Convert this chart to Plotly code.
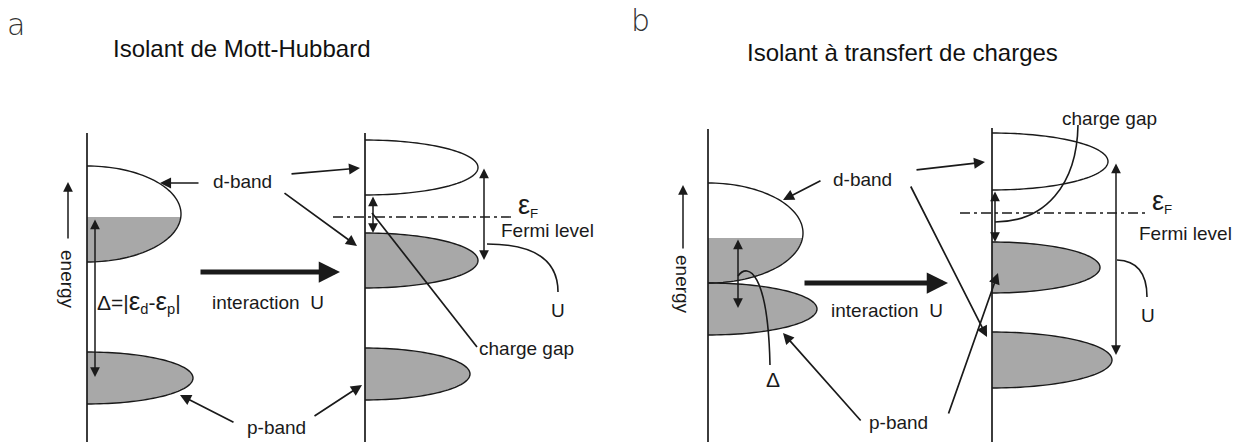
import numpy as np
import plotly.graph_objects as go

W, H = 1237, 442
FONT = "Liberation Sans, Arial, sans-serif"
INK = "#1a1a1a"
GRAY = "#a8a8a8"

# ---- schematic geometry (pixel-space coordinates of the drawing) ----
# vertical energy axes: x, y_top
AXES_X = [87, 365, 708, 992]
AXES_TOP = [133, 133, 129, 128]

# bands: axis x, top, bottom, half-width, gray-fill start (None = white)
BAND_X0 = [87, 87, 365, 365, 365, 708, 708, 992, 992, 992]
BAND_TOP = [166, 352, 140, 233, 348, 183, 283, 133, 242, 332]
BAND_BOT = [262, 404, 195, 288, 400, 283, 335, 190, 293, 388]
BAND_W = [94, 106, 113, 113, 105, 95, 109, 116, 108, 120]
BAND_FILL = [217, 352, None, 233, 348, 238, 283, None, 242, 332]

# energy arrows (x, tail y, tip y) and "energy" label y
ENERGY_X = [68, 683]
ENERGY_TAIL = [240, 250]
ENERGY_TIP = [182, 185]
ENERGY_LABEL_Y = [279, 284]

# double arrows: x, y1, y2
DBL_X = [95, 373, 484, 738, 995, 1116]
DBL_Y1 = [218, 195, 167, 238, 190, 162]
DBL_Y2 = [377, 233, 260, 308, 242, 355]

# Fermi levels: y, x1, x2
FERMI_Y = [217, 213]
FERMI_X1 = [333, 960]
FERMI_X2 = [513, 1147]

# pointer arrows: tail (x,y) -> tip (x,y)
PTR_TAIL_X = [200, 290, 283, 235, 313, 822, 915, 910, 862, 948]
PTR_TAIL_Y = [183, 174, 192, 423, 417, 180, 170, 185, 422, 415]
PTR_TIP_X = [160, 360, 357, 180, 362, 783, 985, 987, 783, 998]
PTR_TIP_Y = [183, 168, 246, 395, 385, 200, 162, 337, 333, 273]

# thick "interaction U" arrows
INT_TAIL_X = [199, 803]
INT_TIP_X = [340, 948]
INT_Y = [272, 283]

# text labels
LABELS = [
    ("d-band", 242, 181, "center"),
    ("p-band", 276, 427, "center"),
    ("interaction  U", 210, 302, "left"),
    ("Fermi level", 499, 230, "left"),
    ("U", 558, 310, "center"),
    ("charge gap", 477, 348, "left"),
    ("d-band", 862, 179, "center"),
    ("p-band", 898, 422, "center"),
    ("interaction  U", 829, 310, "left"),
    ("Fermi level", 1234, 233, "right"),
    ("U", 1148, 315, "center"),
    ("charge gap", 1060, 118, "left"),
]

TITLES = ["Isolant de Mott-Hubbard", "Isolant à transfert de charges"]
TITLE_X = [241, 902]
TITLE_Y = [48, 52]
PANEL_TAGS = ["a", "b"]
TAG_X = [16, 640]
TAG_Y = [24, 20]


def ellipse_pts(x0, top, bot, w, y_from=None, n=80):
    yc = (top + bot) / 2
    h = (bot - top) / 2
    t0 = 0.0
    if y_from is not None:
        t0 = np.arccos(np.clip((yc - y_from) / h, -1, 1))
    t = np.linspace(t0, np.pi, n)
    xs = x0 + w * np.sin(t)
    ys = yc - h * np.cos(t)
    return xs, ys


def path_from(xs, ys, close=False):
    p = "M " + " L ".join(f"{x:.2f},{y:.2f}" for x, y in zip(xs, ys))
    return p + (" Z" if close else "")


shapes = []
annotations = []

# band fills
for x0, top, bot, w, fy in zip(BAND_X0, BAND_TOP, BAND_BOT, BAND_W, BAND_FILL):
    if fy is None:
        continue
    xs, ys = ellipse_pts(x0, top, bot, w, fy)
    xs = np.concatenate([[x0], xs, [x0]])
    ys = np.concatenate([[fy], ys, [bot]])
    shapes.append(dict(type="path", path=path_from(xs, ys, True), xref="x", yref="y",
                       fillcolor=GRAY, line=dict(width=0), layer="above"))
# band outlines
for x0, top, bot, w in zip(BAND_X0, BAND_TOP, BAND_BOT, BAND_W):
    xs, ys = ellipse_pts(x0, top, bot, w)
    shapes.append(dict(type="path", path=path_from(xs, ys), xref="x", yref="y",
                       line=dict(color=INK, width=1.4)))
# axes
for ax_x, ax_top in zip(AXES_X, AXES_TOP):
    shapes.append(dict(type="line", x0=ax_x, x1=ax_x, y0=ax_top, y1=H, xref="x", yref="y",
                       line=dict(color=INK, width=1.7)))
# Fermi levels
for fy, fx1, fx2 in zip(FERMI_Y, FERMI_X1, FERMI_X2):
    shapes.append(dict(type="line", x0=fx1, x1=fx2, y0=fy, y1=fy, xref="x", yref="y",
                       line=dict(color=INK, width=1.4, dash="10px,4px,3px,4px")))
# charge gap pointer line (panel a) and curves
shapes.append(dict(type="line", x0=372, y0=213, x1=477, y1=347, xref="x", yref="y",
                   line=dict(color=INK, width=1.7)))
CURVES = [
    "M 487,244 Q 558,244 558,292",
    "M 1117,260 Q 1147,261 1147,297",
    "M 738,276 C 748,262 768,272 770,365",
    "M 1078,125 C 1077,185 1045,222 995,222",
]
for c in CURVES:
    shapes.append(dict(type="path", path=c, xref="x", yref="y",
                       line=dict(color=INK, width=1.6)))


def arrow(tx, ty, sx, sy, width=1.5, head=2, size=1.0, side="end"):
    annotations.append(dict(x=tx, y=ty, ax=sx, ay=sy, xref="x", yref="y", axref="x", ayref="y",
                            text="", showarrow=True, arrowhead=head, arrowsize=size,
                            arrowwidth=width, arrowcolor=INK, arrowside=side,
                            startarrowhead=head, startarrowsize=size, standoff=0, startstandoff=0))


for x, t, p in zip(ENERGY_X, ENERGY_TAIL, ENERGY_TIP):
    arrow(x, p, x, t, width=1.5, size=1.3)
for x, y1, y2 in zip(DBL_X, DBL_Y1, DBL_Y2):
    arrow(x, y2, x, y1, width=1.5, size=1.3, side="end+start")
for tx, ty, sx, sy in zip(PTR_TIP_X, PTR_TIP_Y, PTR_TAIL_X, PTR_TAIL_Y):
    arrow(tx, ty, sx, sy, width=1.7, size=1.3)
for sx, tx, y in zip(INT_TAIL_X, INT_TIP_X, INT_Y):
    arrow(tx, y, sx, y, width=5, size=0.85, head=2)

# text
for txt, x, y, anchor in LABELS:
    annotations.append(dict(x=x, y=y, xref="x", yref="y", text=txt, showarrow=False,
                            xanchor=anchor, yanchor="middle",
                            font=dict(family=FONT, size=19, color=INK)))
for x, y in zip(ENERGY_X, ENERGY_LABEL_Y):
    annotations.append(dict(x=x, y=y, xref="x", yref="y", text="energy", showarrow=False,
                            textangle=90, font=dict(family=FONT, size=19, color=INK)))
annotations.append(dict(x=95, y=301, xref="x", yref="y", showarrow=False, xanchor="left",
                        text="Δ=|<span style='font-size:26px'>ε</span><sub>d</sub>-"
                             "<span style='font-size:26px'>ε</span><sub>p</sub>|",
                        font=dict(family=FONT, size=21, color=INK)))
for x, y in [(516, 205), (1150, 201)]:
    annotations.append(dict(x=x, y=y, xref="x", yref="y", showarrow=False, xanchor="left",
                            text="<span style='font-size:27px'>ε</span><sub>F</sub>",
                            font=dict(family=FONT, size=19, color=INK)))
annotations.append(dict(x=773, y=379, xref="x", yref="y", showarrow=False, text="Δ",
                        font=dict(family=FONT, size=21, color=INK)))
for t, x, y in zip(TITLES, TITLE_X, TITLE_Y):
    annotations.append(dict(x=x, y=y, xref="x", yref="y", text=t, showarrow=False,
                            font=dict(family=FONT, size=24, color="#111111")))
for t, x, y in zip(PANEL_TAGS, TAG_X, TAG_Y):
    annotations.append(dict(x=x, y=y, xref="x", yref="y", text=t, showarrow=False,
                            font=dict(family="DejaVu Sans", size=30, color="#333333", weight=300)))

fig = go.Figure()
fig.add_trace(go.Scatter(x=[0, W], y=[0, H], mode="markers", marker=dict(opacity=0),
                         hoverinfo="skip", showlegend=False))
fig.update_layout(
    width=W, height=H, margin=dict(l=0, r=0, t=0, b=0),
    paper_bgcolor="white", plot_bgcolor="white",
    xaxis=dict(range=[0, W], visible=False, fixedrange=True),
    yaxis=dict(range=[H, 0], visible=False, fixedrange=True),
    shapes=shapes, annotations=annotations, showlegend=False,
)
fig.write_html("out.html", config={"displayModeBar": False},
               post_script="document.body.style.margin='0px';document.body.style.overflow='hidden';")
